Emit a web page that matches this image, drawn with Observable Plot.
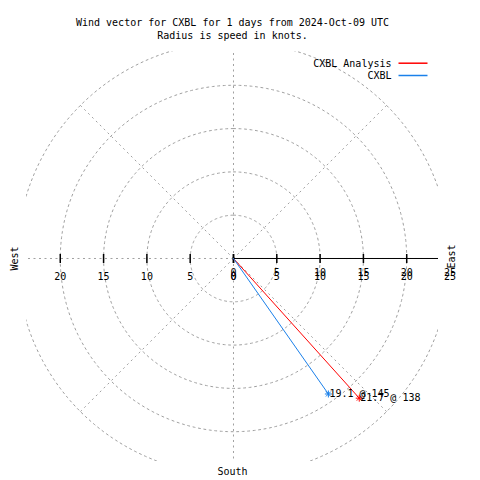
<!DOCTYPE html>
<html><head><meta charset="utf-8">
<script src="https://cdn.jsdelivr.net/npm/d3@7"></script>
<script src="https://cdn.jsdelivr.net/npm/@observablehq/plot@0.6"></script>
<style>body{margin:0;background:#fff} svg{display:block}</style>
</head><body><div id="chart"></div>
<script>
const titleText = "Wind vector for CXBL for 1 days from 2024-Oct-09 UTC";
const subtitleText = "Radius is speed in knots.";
const seriesNames = ["CXBL Analysis", "CXBL"];
const speeds = [21.7, 19.1];
const directions = [138, 145];
const ringValues = [5, 10, 15, 20, 25];
const spokeAngles = [0, 45, 90, 135, 180, 225, 270, 315];
const leftTickValues = [20, 15, 10, 5, 0];
const rightTickValues = [0, 5, 10, 15, 20, 25];

const rad = d => d * Math.PI / 180;
const vectors = seriesNames.map((name, i) => ({
  name, speed: speeds[i], dir: directions[i],
  x: speeds[i] * Math.sin(rad(directions[i])),
  y: speeds[i] * Math.cos(rad(directions[i]))
}));
const vectorLines = vectors.flatMap(v => [{name: v.name, x: 0, y: 0}, {name: v.name, x: v.x, y: v.y}]);
const rMax = d3.max(ringValues);
const ringPts = ringValues.flatMap(r => d3.range(0, 361, 1).map(a => ({r, x: r * Math.sin(rad(a)), y: r * Math.cos(rad(a))})));
const spokes = spokeAngles.map(a => ({x1: 0, y1: 0, x2: rMax * Math.sin(rad(a)), y2: rMax * Math.cos(rad(a))}));
const tickPositions = [...leftTickValues.map(v => -v), ...rightTickValues];

const segSymbol = angles => ({draw(ctx, size) {
  const r = Math.sqrt(size / Math.PI);
  for (const a of angles) {
    const c = Math.cos(a), s = Math.sin(a);
    ctx.moveTo(-r * c, -r * s); ctx.lineTo(r * c, r * s);
  }
}});
const star = segSymbol([0, Math.PI / 4, Math.PI / 2, 3 * Math.PI / 4]);
const hline = segSymbol([0]);
const vline = segSymbol([Math.PI / 2]);

const grid = {stroke: "#a0a0a0", strokeDasharray: "2,3.5", strokeWidth: 1, clip: true};

const chart = Plot.plot({
  width: 480, height: 480,
  marginLeft: 26, marginRight: 42, marginTop: 51, marginBottom: 19,
  x: {domain: [-23.9, 23.67], axis: null},
  y: {domain: [-23.44, 23.9], axis: null},
  color: {domain: seriesNames, range: ["#ff0000", "#1a80ea"]},
  style: {fontFamily: "'DejaVu Sans Mono', monospace", fontSize: "10px", background: "#fff", color: "#000"},
  marks: [
    Plot.line(ringPts, {x: "x", y: "y", z: "r", ...grid}),
    Plot.link(spokes, {x1: "x1", y1: "y1", x2: "x2", y2: "y2", ...grid}),
    Plot.link([{x1: 0, y1: 0, x2: rMax, y2: 0}], {x1: "x1", y1: "y1", x2: "x2", y2: "y2", stroke: "#000", strokeWidth: 1, clip: true}),
    Plot.dot(tickPositions, {x: d => d, y: () => 0, symbol: vline, r: 4.5, stroke: "#000", fill: "none", clip: true}),
    Plot.line(vectorLines, {x: "x", y: "y", z: "name", stroke: "name", strokeWidth: 1}),
    Plot.dot(vectors, {x: "x", y: "y", symbol: star, r: 3.5, stroke: "name", fill: "none", strokeWidth: 1}),
    Plot.text(vectors, {x: "x", y: "y", text: d => `${d.speed} @ ${d.dir}`, textAnchor: "start", dx: 1}),
    Plot.text(leftTickValues, {x: d => -d, y: () => 0, text: d => String(d), dy: 18}),
    Plot.text(rightTickValues, {x: d => d, y: () => 0, text: d => String(d), dy: 18}),
    Plot.text(rightTickValues, {x: d => d, y: () => 0, text: d => String(d), dy: 14}),
    Plot.text(["West"], {y: () => 0, frameAnchor: "left", dx: -12, rotate: -90, textAnchor: "middle", lineAnchor: "middle", text: d => d}),
    Plot.text(["East"], {y: () => 0, frameAnchor: "right", dx: 13, dy: -2, rotate: -90, textAnchor: "middle", lineAnchor: "middle", text: d => d}),
    Plot.text(["South"], {frameAnchor: "bottom", dy: 10, lineAnchor: "middle", textAnchor: "middle", text: d => d}),
    Plot.text([titleText], {frameAnchor: "top", dy: -26, lineAnchor: "bottom", text: d => d}),
    Plot.text([subtitleText], {frameAnchor: "top", dy: -13, lineAnchor: "bottom", text: d => d}),
    ...seriesNames.map((name, i) => Plot.text([name], {frameAnchor: "top-right", dx: -47, dy: 12.3 + i * 12.2, textAnchor: "end", lineAnchor: "middle", text: d => d})),
    ...seriesNames.map((name, i) => Plot.dot([name], {frameAnchor: "top-right", dx: -25.5, dy: 11.7 + i * 12.3, symbol: hline, r: 14.5, stroke: d => d, fill: "none"}))
  ]
});
document.getElementById("chart").appendChild(chart);
</script>
</body></html>
